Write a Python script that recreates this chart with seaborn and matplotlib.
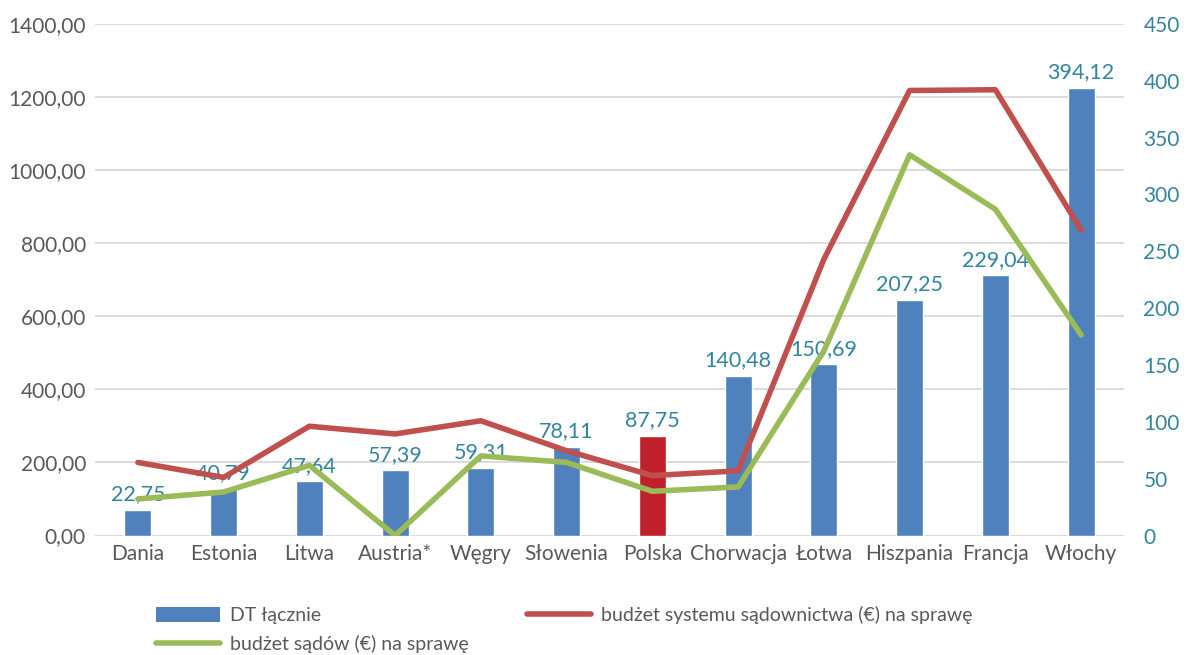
import matplotlib
matplotlib.use("Agg")
import matplotlib.pyplot as plt
import seaborn as sns
import numpy as np
from matplotlib.lines import Line2D
from matplotlib.patches import Patch
from matplotlib.ticker import FuncFormatter, MultipleLocator

countries = ["Dania", "Estonia", "Litwa", "Austria*", "Węgry", "Słowenia", "Polska",
             "Chorwacja", "Łotwa", "Hiszpania", "Francja", "Włochy"]
dt_total = [22.75, 40.79, 47.64, 57.39, 59.31, 78.11, 87.75, 140.48, 150.69, 207.25, 229.04, 394.12]
budget_system = [200, 159, 299, 278, 314, 232, 164, 177, 756, 1218, 1220, 836]
budget_courts = [100, 119, 192, 0, 218, 200, 121, 133, 505, 1042, 893, 549]

BLUE = "#4F81BD"
POL_RED = "#C0202A"
RED = "#C0504D"
GREEN = "#9BBB59"
TEAL = "#31859C"
GRAY = "#595959"

sns.set_theme(style="white")
plt.rcParams["font.family"] = ["Lato", "DejaVu Sans"]

fig = plt.figure(figsize=(11.86, 6.55), dpi=100)
rect = [95 / 1186, 1 - 535.5 / 655, (1124 - 95) / 1186, (535.5 - 24) / 655]
ax = fig.add_axes(rect)
ax.set_ylim(0, 1400)
ax.yaxis.set_major_locator(MultipleLocator(200))
ax.yaxis.set_major_formatter(FuncFormatter(lambda v, p: f"{v:.2f}".replace(".", ",")))
ax.grid(axis="y", color="#D9D9D9", linewidth=1.3)
ax.tick_params(axis="y", labelsize=15, labelcolor=GRAY, length=0, pad=6.5)
for s in ax.spines.values():
    s.set_visible(False)

# bars on right axis
ax2 = ax.twinx()
palette = [POL_RED if c == "Polska" else BLUE for c in countries]
sns.barplot(x=countries, y=dt_total, hue=countries, palette=palette, legend=False,
            width=0.315, ax=ax2, saturation=1)
ax2.set_ylim(0, 450)
ax2.yaxis.set_major_locator(MultipleLocator(50))
ax2.yaxis.set_major_formatter(FuncFormatter(lambda v, p: f"{v:.0f}"))
ax2.tick_params(axis="y", labelsize=15, labelcolor=TEAL, length=0, pad=14)
for cont in ax2.containers:
    ax2.bar_label(cont, labels=[f"{v:.2f}".replace(".", ",") for v in cont.datavalues],
                  padding=4, color=TEAL, fontsize=15.5)
for s in ax2.spines.values():
    s.set_visible(False)

# lines on top axis
ax3 = ax.twinx()
sns.lineplot(x=countries, y=budget_system, color=RED, linewidth=4, ax=ax3, sort=False)
sns.lineplot(x=countries, y=budget_courts, color=GREEN, linewidth=4, ax=ax3, sort=False)
ax3.set_ylim(0, 1400)
ax3.set_yticks([])
for s in ax3.spines.values():
    s.set_visible(False)

ax.set_xlim(-0.5, len(countries) - 0.5)
ax.set_xticks(range(len(countries)))
ax.set_xticklabels(countries)
ax.tick_params(axis="x", labelsize=15, labelcolor=GRAY, length=0, pad=6)
ax2.set_xlabel("")
ax3.set_xlabel("")
ax2.tick_params(axis="x", bottom=False, labelbottom=False)
ax3.tick_params(axis="x", bottom=False, labelbottom=False)
ax.axhline(0, color="#D9D9D9", linewidth=1.3)

handles = [Patch(facecolor=BLUE, edgecolor="none"),
           Line2D([], [], color=GREEN, linewidth=4),
           Line2D([], [], color=RED, linewidth=4)]
labels = ["DT łącznie", "budżet sądów (€) na sprawę", "budżet systemu sądownictwa (€) na sprawę"]
fig.legend(handles, labels, ncol=2, loc="upper left", bbox_to_anchor=(148 / 1186, 1 - 598 / 655),
           frameon=False, fontsize=14, handlelength=3.3, handleheight=0.8, columnspacing=3.0,
           labelspacing=0.55, handletextpad=0.5, labelcolor=GRAY, borderaxespad=0)

fig.savefig("out.png", dpi=100)
